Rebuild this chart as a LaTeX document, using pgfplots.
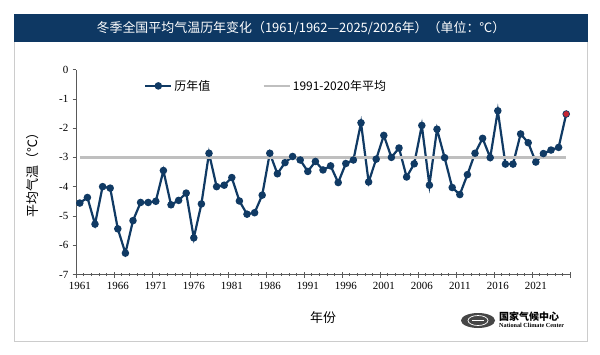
\documentclass[border=0pt]{standalone}
\usepackage{fontspec}
\usepackage{pgfplots}
\pgfplotsset{compat=1.18}
\setmainfont{Liberation Serif}
\newfontfamily\cjk{Noto Sans CJK SC}
\definecolor{navy}{RGB}{14,56,99}
\definecolor{navyline}{RGB}{16,58,100}
\definecolor{avggray}{RGB}{191,191,191}
\definecolor{redpt}{RGB}{196,38,52}
\pgfplotstableread{
year val
1961 -4.56
1962 -4.37
1963 -5.28
1964 -4.00
1965 -4.05
1966 -5.44
1967 -6.27
1968 -5.16
1969 -4.54
1970 -4.54
1971 -4.50
1972 -3.45
1973 -4.62
1974 -4.47
1975 -4.22
1976 -5.75
1977 -4.59
1978 -2.86
1979 -4.00
1980 -3.95
1981 -3.69
1982 -4.49
1983 -4.94
1984 -4.89
1985 -4.29
1986 -2.86
1987 -3.56
1988 -3.18
1989 -2.97
1990 -3.09
1991 -3.48
1992 -3.14
1993 -3.43
1994 -3.29
1995 -3.86
1996 -3.21
1997 -3.09
1998 -1.82
1999 -3.84
2000 -3.06
2001 -2.25
2002 -3.00
2003 -2.68
2004 -3.67
2005 -3.22
2006 -1.91
2007 -3.95
2008 -2.04
2009 -3.01
2010 -4.03
2011 -4.27
2012 -3.59
2013 -2.86
2014 -2.35
2015 -3.01
2016 -1.41
2017 -3.23
2018 -3.23
2019 -2.20
2020 -2.50
2021 -3.16
2022 -2.87
2023 -2.75
2024 -2.66
2025 -1.52
}\datatable
\begin{document}
\begin{tikzpicture}[x=1bp,y=1bp]
\fill[white] (0,0) rectangle (600,354);
\draw[gray!40, line width=0.8bp] (14.5,13) rectangle (587.5,340);
\fill[navy] (14,312) rectangle (588,340);
\node[text=white, font=\cjk\fontsize{13}{15}\selectfont] at (301,326) {冬季全国平均气温历年变化（1961/1962—2025/2026年）（单位：℃）};
\begin{axis}[
  at={(76bp,79.5bp)}, anchor=south west,
  scale only axis, width=494bp, height=205bp,
  xmin=1960.5, xmax=2025.5, ymin=-7, ymax=0,
  axis lines=left,
  axis line style={-, black!65, line width=0.6bp},
  xtick={1960.5,1965.5,1970.5,1975.5,1980.5,1985.5,1990.5,1995.5,2000.5,2005.5,2010.5,2015.5,2020.5,2025.5},
  xticklabels={1961,1966,1971,1976,1981,1986,1991,1996,2001,2006,2011,2016,2021,{}},
  xticklabel style={xshift=3.8bp, yshift=-2.5bp},
  minor x tick num=4,
  ytick={-7,-6,-5,-4,-3,-2,-1,0},
  yticklabels={-7,-6,-5,-4,-3,-2,-1,0},
  xtick align=center, ytick align=outside,
  xtick style={black!65, line width=0.5bp, /pgfplots/major tick length=6bp, /pgfplots/minor tick length=3bp},
  ytick style={black!65, line width=0.5bp, /pgfplots/major tick length=3.5bp},
  tick label style={font=\fontsize{11}{12}\selectfont, black},
  xlabel={\cjk 年份},
  xlabel style={at={(axis description cs:0.5,-0.212)}, anchor=center, font=\fontsize{13}{15}\selectfont},
  ylabel={\cjk 平均气温（℃）},
  ylabel style={at={(axis description cs:-0.087,0.5)}, anchor=center, font=\fontsize{13}{15}\selectfont},
  legend style={at={(axis description cs:0.1377,0.92)}, anchor=west, draw=none, fill=none,
    font=\cjk\fontsize{12}{14}\selectfont, inner sep=0pt,
    /tikz/every even column/.append style={column sep=50bp}},
  legend columns=2,
  legend image code/.code={\draw[mark repeat=2,mark phase=2] plot coordinates {(0bp,0bp) (13bp,0bp) (26bp,0bp)};},
  clip=false,
]
\addplot[navyline, line width=2.2bp, mark=*, mark size=2.6bp, mark options={solid}] table[x=year,y=val] {\datatable};
\addplot[avggray, line width=2.6bp] coordinates {(1961,-3) (2025,-3)};
\addplot[redpt, only marks, mark=*, mark size=2.6bp, forget plot] coordinates {(2025,-1.52)};
\legend{历年值, 1991-2020年平均}
\end{axis}
\fill[gray!55!black] (478,33.5) ellipse (17 and 7.5);
\draw[white, line width=0.7bp] (478,33.5) ellipse (10 and 5);
\draw[white, line width=0.5bp] (472,33.5) -- (484,33.5);
\node[anchor=west, font=\cjk\bfseries\fontsize{10}{11}\selectfont, inner sep=0] at (499,37.5) {国家气候中心};
\node[anchor=west, font=\bfseries\fontsize{6.2}{7}\selectfont, inner sep=0] at (499,28.5) {National Climate Center};
\end{tikzpicture}
\end{document}
